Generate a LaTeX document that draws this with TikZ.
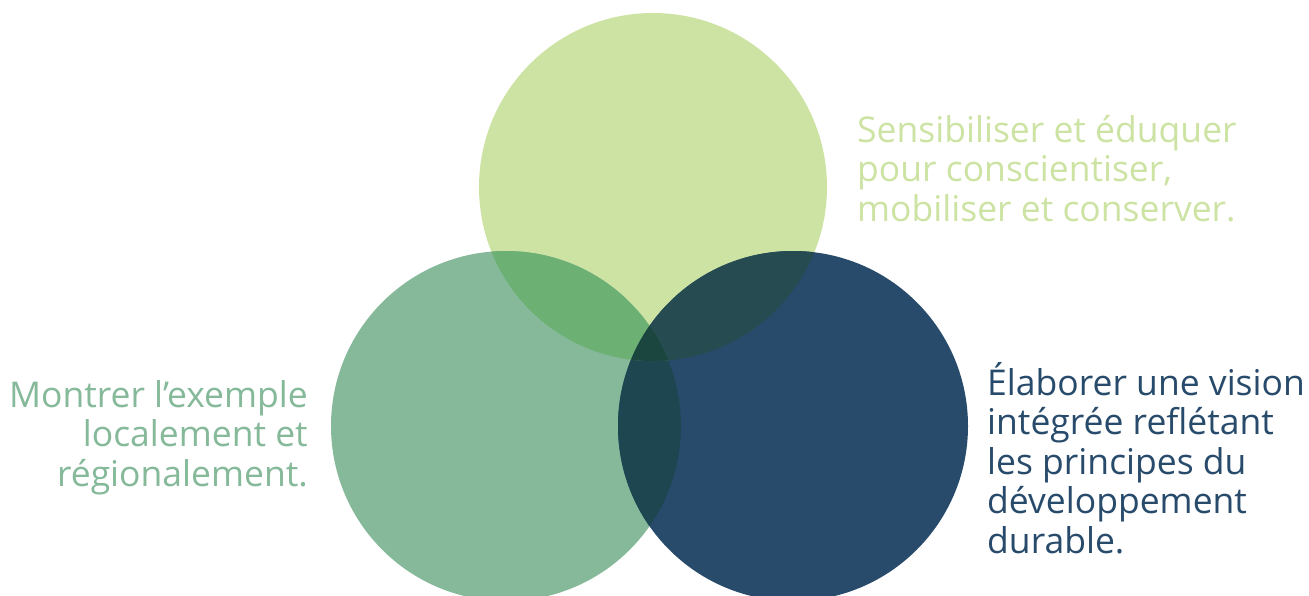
\documentclass[tikz,border=0pt]{standalone}
\usepackage{fontspec}
\setmainfont{Open Sans}
\definecolor{vtop}{HTML}{CDE3A3}
\definecolor{vleft}{HTML}{85B99A}
\definecolor{vright}{HTML}{284B6C}
\definecolor{vtopleft}{HTML}{6CB073}
\definecolor{vtopright}{HTML}{264B51}
\definecolor{vleftright}{HTML}{1D4651}
\definecolor{vmiddle}{HTML}{1B463F}
\begin{document}
\begin{tikzpicture}[x=1pt,y=-1pt]
\tikzstyle{every node}+=[inner sep=0pt]
\tikzstyle{txt}=[font=\fontsize{35.5}{39.5}\selectfont]
\useasboundingbox (0,0) rectangle (1309,595);

\coordinate (ctop) at (653,187);
\coordinate (cleft) at (506,426);
\coordinate (cright) at (793,426);

\fill[vtop] (ctop) circle (174);
\fill[vleft] (cleft) circle (175);
\fill[vright] (cright) circle (175);

\begin{scope}
\clip (cleft) circle (175);
\fill[vleftright] (cright) circle (175);
\end{scope}
\begin{scope}
\clip (ctop) circle (174);
\fill[vtopleft] (cleft) circle (175);
\fill[vtopright] (cright) circle (175);
\clip (cleft) circle (175);
\fill[vmiddle] (cright) circle (175);
\end{scope}

\node[txt, text=vtop, anchor=north west, align=left] (sensib) at (857,115)
  {Sensibiliser et éduquer\\pour conscientiser,\\mobiliser et conserver.};
\node[txt, text=vleft, anchor=north east, align=right] (montrer) at (308,380)
  {Montrer l’exemple\\localement et\\régionalement.};
\node[txt, text=vright, anchor=north west, align=left] (elaborer) at (987,362)
  {Élaborer une vision\\intégrée reflétant\\les principes du\\développement\\durable.};

\end{tikzpicture}
\end{document}
